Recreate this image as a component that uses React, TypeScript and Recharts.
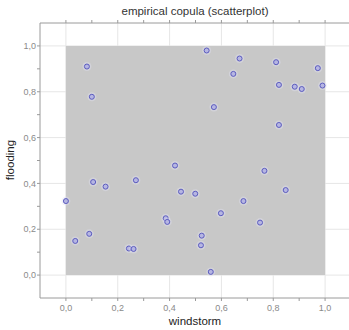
import { ScatterChart, Scatter, XAxis, YAxis, ReferenceArea, CartesianGrid } from 'recharts';

const windstorm = [
  0.0, 0.036, 0.081, 0.09, 0.1, 0.105, 0.153, 0.243, 0.261, 0.27,
  0.385, 0.391, 0.421, 0.444, 0.499, 0.521, 0.524, 0.543, 0.559, 0.571,
  0.598, 0.646, 0.67, 0.685, 0.749, 0.766, 0.811, 0.822, 0.822, 0.848,
  0.883, 0.91, 0.972, 0.99,
];
const flooding = [
  0.323, 0.149, 0.91, 0.18, 0.778, 0.406, 0.386, 0.116, 0.114, 0.414,
  0.248, 0.232, 0.478, 0.364, 0.355, 0.13, 0.172, 0.98, 0.014, 0.733,
  0.27, 0.878, 0.945, 0.323, 0.229, 0.455, 0.929, 0.83, 0.655, 0.371,
  0.822, 0.812, 0.903, 0.827,
];
const majorTicks = [0, 0.2, 0.4, 0.6, 0.8, 1.0];
const minorTicks = [0, 0.1, 0.2, 0.3, 0.4, 0.5, 0.6, 0.7, 0.8, 0.9, 1.0];

const points = windstorm.map((x, i) => ({ x, y: flooding[i] }));

const FONT = '"Liberation Sans", Arial, sans-serif';
const AXIS = '#9a9a9a';
const tickStyle = { fill: '#8a8a8a', fontSize: 9, fontFamily: FONT };

// only every second (major) tick gets a label, with a decimal comma
const fmt = (v: number) => (Math.round(v * 10) % 2 === 0 ? v.toFixed(1).replace('.', ',') : '');

function Dot(props: any) {
  const { cx, cy } = props;
  return (
    <g>
      <circle cx={cx} cy={cy} r={4.5} fill="#e0e0f2" fillOpacity={0.4} />
      <circle cx={cx} cy={cy} r={2.5} fill="#b6b6e2" stroke="#5c5cc0" strokeWidth={1} />
    </g>
  );
}

export default function App() {
  return (
    <div style={{ position: 'absolute', left: 0, top: 0, width: 349, height: 330, overflow: 'hidden', background: '#fff' }}>
      <div style={{ position: 'absolute', left: 40, width: 310, top: 5, textAlign: 'center', fontFamily: FONT, fontSize: 11.5, color: '#333' }}>
        empirical copula (scatterplot)
      </div>
      <div style={{ position: 'absolute', left: 40, width: 310, top: 315, textAlign: 'center', fontFamily: FONT, fontSize: 11.5, color: '#222' }}>
        windstorm
      </div>
      <div style={{ position: 'absolute', left: 10, top: 160, transform: 'translate(-50%, -50%) rotate(-90deg)', fontFamily: FONT, fontSize: 11.5, color: '#222', whiteSpace: 'nowrap' }}>
        flooding
      </div>
      <ScatterChart width={351} height={330} margin={{ top: 0, right: 0, bottom: 0, left: 0 }}>
        <CartesianGrid
          xAxisId="b" yAxisId="l" stroke="#e6e6e6"
          horizontalValues={majorTicks} verticalValues={majorTicks}
        />
        <XAxis
          xAxisId="t" orientation="top" type="number" dataKey="x" domain={[-0.1, 1.1]}
          ticks={minorTicks} tickFormatter={() => ''} height={23} tickSize={3}
          stroke={AXIS} allowDataOverflow
        />
        <XAxis
          xAxisId="b" type="number" dataKey="x" domain={[-0.1, 1.1]}
          ticks={minorTicks} tickFormatter={fmt} height={32} tickSize={3} tickMargin={4}
          tick={tickStyle} stroke={AXIS} allowDataOverflow interval={0}
        />
        <YAxis
          yAxisId="l" type="number" dataKey="y" domain={[-0.1, 1.1]}
          ticks={minorTicks} tickFormatter={fmt} width={40} tickSize={3} tickMargin={1}
          tick={tickStyle} stroke={AXIS} allowDataOverflow interval={0}
        />
        <ReferenceArea xAxisId="b" yAxisId="l" x1={0} x2={1} y1={0} y2={1} fill="#c8c8c8" fillOpacity={1} stroke="none" />
        <Scatter xAxisId="b" yAxisId="l" data={points} shape={<Dot />} isAnimationActive={false} />
      </ScatterChart>
    </div>
  );
}
